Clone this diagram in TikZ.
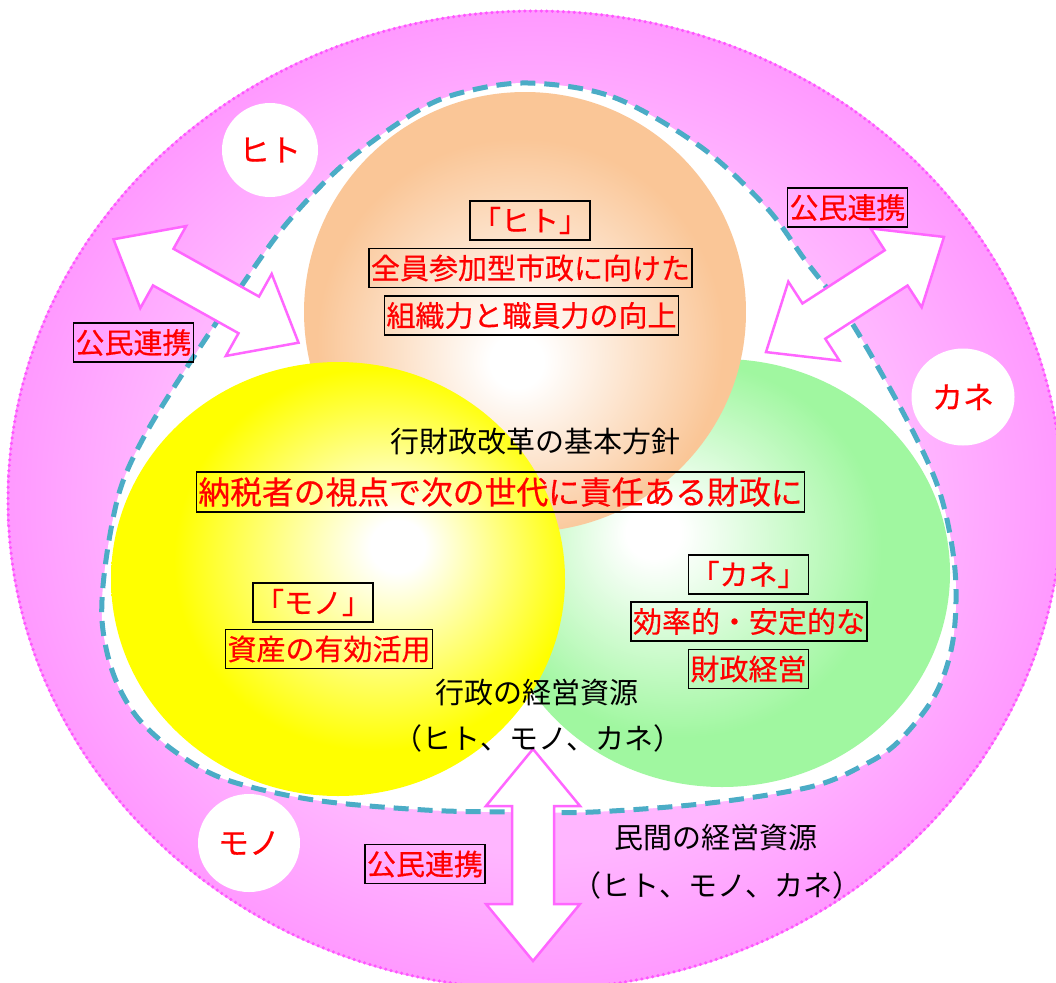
\documentclass[tikz,border=0pt]{standalone}
\usepackage{fontspec}
\setmainfont{Noto Sans CJK JP}
\newfontfamily\redjp{Noto Sans CJK JP}[FakeBold=0.5]
\usetikzlibrary{shapes.geometric}
\definecolor{pinkO}{HTML}{FF99FF}
\definecolor{pinkL}{HTML}{FFB6FF}
\definecolor{pinkLine}{HTML}{FF66FF}
\definecolor{dotC}{HTML}{FF55FF}
\definecolor{dashC}{HTML}{4BACC6}
\definecolor{orangeC}{HTML}{FAC697}
\definecolor{yellowC}{HTML}{FFFF00}
\definecolor{greenC}{HTML}{A0F7A0}
\definecolor{redT}{HTML}{FF0000}
\pgfdeclareradialshading{shPink}{\pgfpoint{0bp}{0bp}}{color(0bp)=(pinkL); color(18bp)=(pinkL); color(25bp)=(pinkO); color(50bp)=(pinkO)}
\pgfdeclareradialshading{shOrange}{\pgfpoint{-1bp}{-6bp}}{color(0bp)=(white); color(3bp)=(white); color(23bp)=(orangeC); color(50bp)=(orangeC)}
\pgfdeclareradialshading{shYellow}{\pgfpoint{7bp}{4bp}}{color(0bp)=(white); color(3bp)=(white); color(22bp)=(yellowC); color(50bp)=(yellowC)}
\pgfdeclareradialshading{shGreen}{\pgfpoint{-8bp}{5bp}}{color(0bp)=(white); color(3bp)=(white); color(22bp)=(greenC); color(50bp)=(greenC)}
\tikzset{
  box/.style={draw=black, line width=1.5pt, text=redT, inner xsep=2pt, inner ysep=1pt,
    minimum height=39pt, font=\redjp\fontsize{29}{32}\selectfont},
  plain/.style={text=black, inner sep=0pt, font=\fontsize{29}{31}\selectfont},
  badge/.style={ellipse, fill=white, text=redT, inner sep=0pt, font=\redjp\fontsize{31}{33}\selectfont},
  arrowline/.style={fill=white, draw=pinkLine, line width=2.5pt, line join=miter},
  dblarrow/.pic={\draw[arrowline] (-106,0) -- (-49,-47) -- (-49,-21) -- (49,-21) -- (49,-47)
     -- (106,0) -- (49,47) -- (49,21) -- (-49,21) -- (-49,47) -- cycle;}
}
\begin{document}
\begin{tikzpicture}[x=1pt,y=-1pt]
\useasboundingbox (0,0) rectangle (1056,982);
\begin{scope}
\clip (0,0) rectangle (1056,982);
% outer pink region
\shade[shading=shPink] (535,500) ellipse [x radius=528pt, y radius=490pt];
\draw[dotC, line width=3.5pt, line cap=round, dash pattern=on 0pt off 5.5pt] (535,500) ellipse [x radius=527pt, y radius=489pt];
% inner white region
\draw[fill=white, draw=dashC, line width=5pt, dash pattern=on 15pt off 9pt]
  plot[smooth cycle, tension=0.55] coordinates {
  (528,83) (613,97) (701,147) (766,207) (805,260) (850,320) (907,420) (940,493)
  (955,570) (953,640) (935,695) (897,743) (860,767) (810,787) (710,803) (593,812)
  (510,812) (425,810) (314,800) (227,780) (177,753) (137,717) (113,673) (102,620)
  (106,560) (120,490) (145,435) (187,367) (240,288) (287,223) (345,163) (414,113) (460,93)};
% badges
\node[badge, minimum width=96pt, minimum height=94pt] (hito) at (270,150) {ヒト};
\node[badge, minimum width=103pt, minimum height=97pt] (kane) at (963,397) {カネ};
\node[badge, minimum width=102pt, minimum height=98pt] (mono) at (249,843) {モノ};
% three circles
\shade[shading=shGreen] (722,573) ellipse [x radius=228pt, y radius=214pt];
\shade[shading=shOrange] (525,312) ellipse [x radius=221pt, y radius=220pt];
\shade[shading=shYellow] (338,579) ellipse [x radius=227pt, y radius=217pt];
% arrows
\pic[rotate=-29.2] (arrL) at (206,291) {dblarrow};
\pic[rotate=32.9] (arrR) at (855,294.5) {dblarrow};
\pic[rotate=90] (arrB) at (533,855) {dblarrow};
% texts
\node[box] (hitoT) at (530,220.5) {「ヒト」};
\node[box] (hito1) at (530.5,268) {全員参加型市政に向けた};
\node[box] (hito2) at (531.5,315.5) {組織力と職員力の向上};
\node[plain] (kihon) at (535,441) {行財政改革の基本方針};
\node[box, minimum height=40pt, font=\redjp\fontsize{31.8}{34}\selectfont] (nozei) at (500.5,492) {納税者の視点で次の世代に責任ある財政に};
\node[box] (monoT) at (313,602.5) {「モノ」};
\node[box] (mono1) at (329,649) {資産の有効活用};
\node[box] (kaneT) at (748.5,574.5) {「カネ」};
\node[box] (kane1) at (749,621.5) {効率的・安定的な};
\node[box] (kane2) at (748.5,669) {財政経営};
\node[plain] (gyosei) at (537,692) {行政の経営資源};
\node[plain] (gyosei2) at (538,738) {（ヒト、モノ、カネ）};
\node[plain] (minkan) at (716,837) {民間の経営資源};
\node[plain] (minkan2) at (717,885) {（ヒト、モノ、カネ）};
\node[box] (koumin1) at (847.5,207.5) {公民連携};
\node[box] (koumin2) at (133.5,342.5) {公民連携};
\node[box] (koumin3) at (425,864) {公民連携};
\end{scope}
\end{tikzpicture}
\end{document}
